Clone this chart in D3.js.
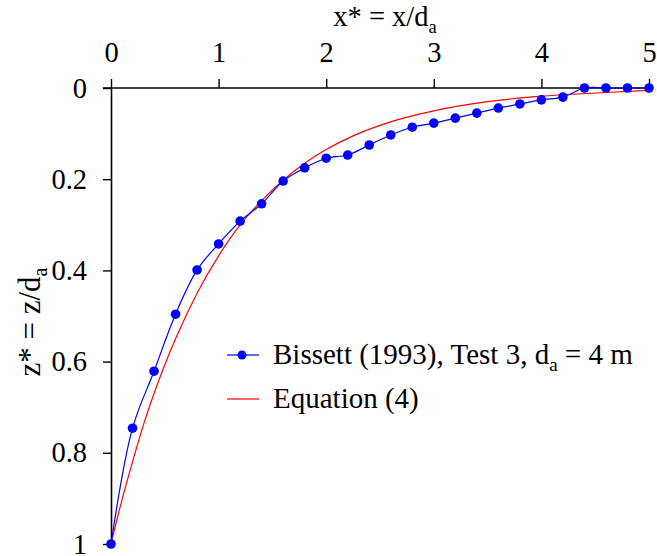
<!DOCTYPE html>
<html>
<head>
<meta charset="utf-8">
<script src="https://cdn.jsdelivr.net/npm/d3@7"></script>
<style>
  html, body { margin: 0; padding: 0; background: #fff; }
</style>
</head>
<body>
<svg id="chart" width="657" height="556"></svg>
<script>
// Measured profile (Bissett 1993, Test 3)
const bissettX = [0, 0.2, 0.4, 0.6, 0.8, 1.0, 1.2, 1.4, 1.6, 1.8, 2.0, 2.2, 2.4, 2.6, 2.8, 3.0, 3.2, 3.4, 3.6, 3.8, 4.0, 4.2, 4.4, 4.6, 4.8, 5.0];
const bissettZ = [1, 0.746, 0.621, 0.496, 0.399, 0.342, 0.292, 0.254, 0.204, 0.175, 0.154, 0.147, 0.125, 0.103, 0.086, 0.077, 0.066, 0.055, 0.044, 0.035, 0.026, 0.020, 0, 0, 0, 0];

// Equation (4) curve
const eqX = [0, 0.1, 0.2, 0.3, 0.4, 0.5, 0.6, 0.8, 1.0, 1.2, 1.4, 1.6, 1.8, 2.0, 2.25, 2.5, 2.75, 3.0, 3.5, 4.0, 4.5, 5.0];
const eqZ = [1, 0.905, 0.82, 0.74, 0.67, 0.607, 0.55, 0.45, 0.368, 0.30, 0.247, 0.202, 0.165, 0.135, 0.105, 0.082, 0.064, 0.05, 0.030, 0.018, 0.011, 0.005];

const xTicks = [0, 1, 2, 3, 4, 5];
const zTicks = [0, 0.2, 0.4, 0.6, 0.8, 1];
const seriesLabels = ["Bissett (1993), Test 3, d", "Equation (4)"];

const FONT = "Liberation Serif";
const FS = 28.5;
const SUB = 18.5;

const svg = d3.select("#chart");
const margin = { left: 111, top: 88 };
const W = 538, H = 456;

const x = d3.scaleLinear().domain([0, 5]).range([0, W]);
const y = d3.scaleLinear().domain([0, 1]).range([0, H]);

const g = svg.append("g").attr("transform", `translate(${margin.left},${margin.top})`);

// axes: x* along the top, z* increasing downward
const xAxis = g.append("g")
  .call(d3.axisTop(x).tickValues(xTicks).tickFormat(d3.format("d")).tickSize(9).tickSizeOuter(0).tickPadding(17));
const yAxis = g.append("g")
  .call(d3.axisLeft(y).tickValues(zTicks).tickFormat(d => String(d)).tickSize(8).tickSizeOuter(0).tickPadding(16));

[xAxis, yAxis].forEach(a => {
  a.attr("font-family", FONT).attr("font-size", FS);
  a.selectAll("path.domain").attr("stroke", "#000").attr("stroke-width", 1.6);
  a.selectAll(".tick line").attr("stroke", "#000").attr("stroke-width", 1.4);
  a.selectAll("text").attr("fill", "#000");
});
xAxis.selectAll("text").attr("dy", null);
// extend horizontal axis to meet the left tick
xAxis.select("path.domain").attr("d", `M-8,0H${W}`);

// equation curve
const eqData = eqX.map((v, i) => [v, eqZ[i]]);
g.append("path")
  .datum(eqData)
  .attr("fill", "none")
  .attr("stroke", "#ff0000")
  .attr("stroke-width", 1.2)
  .attr("d", d3.line().x(d => x(d[0])).y(d => y(d[1])).curve(d3.curveMonotoneX));

// measured data
const bData = bissettX.map((v, i) => [v, bissettZ[i]]);
g.append("path")
  .datum(bData)
  .attr("fill", "none")
  .attr("stroke", "#0000ff")
  .attr("stroke-width", 1.2)
  .attr("d", d3.line().x(d => x(d[0])).y(d => y(d[1])).curve(d3.curveCatmullRom.alpha(0.5)));
g.selectAll("circle.pt")
  .data(bData)
  .join("circle")
  .attr("class", "pt")
  .attr("cx", d => x(d[0]))
  .attr("cy", d => y(d[1]))
  .attr("r", 4.8)
  .attr("fill", "#0000ff");

// axis titles
const title = svg.append("text")
  .attr("x", 385).attr("y", 26)
  .attr("text-anchor", "middle")
  .attr("font-family", FONT).attr("font-size", FS);
title.append("tspan").text("x* = x/d");
title.append("tspan").attr("dy", 7).attr("font-size", SUB).text("a");

const ylab = svg.append("text")
  .attr("transform", "translate(40,322) rotate(-90)")
  .attr("text-anchor", "middle")
  .attr("font-family", FONT).attr("font-size", 31);
ylab.append("tspan").text("z* = z/d");
ylab.append("tspan").attr("dy", 7).attr("font-size", 20).text("a");

// legend
const leg = svg.append("g");
const rows = [
  { y: 355, color: "#0000ff", marker: true },
  { y: 399, color: "#ff0000", marker: false }
];
rows.forEach((r, i) => {
  leg.append("line").attr("x1", 227).attr("x2", 259).attr("y1", r.y).attr("y2", r.y)
    .attr("stroke", r.color).attr("stroke-width", 1.2);
  if (r.marker) leg.append("circle").attr("cx", 242).attr("cy", r.y).attr("r", 4.5).attr("fill", r.color);
  const t = leg.append("text").attr("x", 273).attr("y", r.y + 9)
    .attr("font-family", FONT).attr("font-size", 29);
  t.append("tspan").text(seriesLabels[i]);
  if (i === 0) {
    t.append("tspan").attr("dy", 7).attr("font-size", 19).text("a");
    t.append("tspan").attr("dy", -7).text(" = 4 m");
  }
});
</script>
</body>
</html>
